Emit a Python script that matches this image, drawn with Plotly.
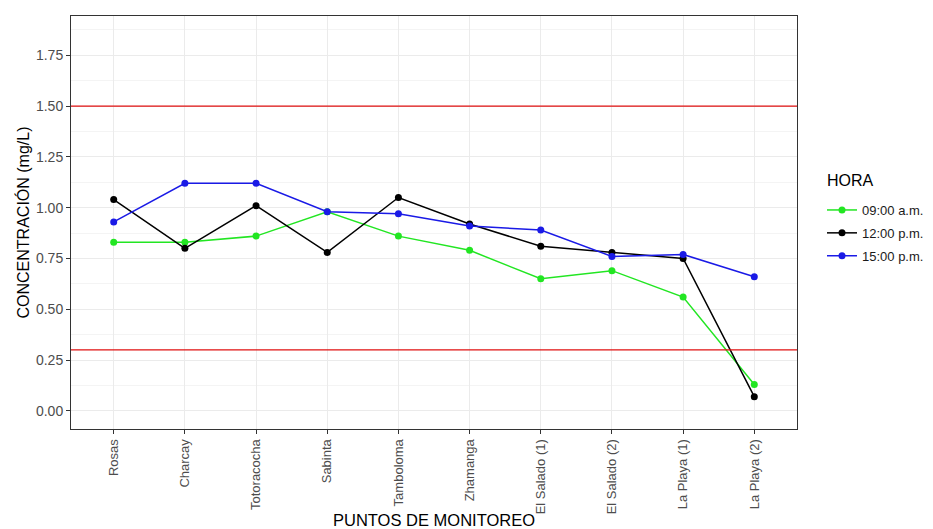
import plotly.graph_objects as go

puntos = ["Rosas", "Charcay", "Totoracocha", "Sabinta", "Tamboloma", "Zhamanga",
          "El Salado (1)", "El Salado (2)", "La Playa (1)", "La Playa (2)"]
hora_0900 = [0.83, 0.83, 0.86, 0.98, 0.86, 0.79, 0.65, 0.69, 0.56, 0.13]
hora_1200 = [1.04, 0.80, 1.01, 0.78, 1.05, 0.92, 0.81, 0.78, 0.75, 0.07]
hora_1500 = [0.93, 1.12, 1.12, 0.98, 0.97, 0.91, 0.89, 0.76, 0.77, 0.66]
series_names = ["09:00 a.m.", "12:00 p.m.", "15:00 p.m."]
series_colors = ["#22E622", "#000000", "#1A1AE6"]
limites = [1.5, 0.3]
y_ticks = [0.00, 0.25, 0.50, 0.75, 1.00, 1.25, 1.50, 1.75]

FONT = "Liberation Sans, Arial, sans-serif"
OFF = 8  # default page body margin
PAGE_W, PAGE_H = 933, 529
# panel edges in page pixels
PL, PR, PT, PB = 71, 797, 16, 429
W, H = PAGE_W - OFF, PAGE_H - OFF
L, T = PL - OFF, PT - OFF
R, B = PAGE_W - PR, PAGE_H - PB
PW, PH = PR - PL, PB - PT

def px_x(x):
    return (x - PL) / PW

def px_y(y):
    return (PB - y) / PH

fig = go.Figure()
for i, (name, vals, col) in enumerate(zip(series_names, [hora_0900, hora_1200, hora_1500], series_colors)):
    fig.add_trace(go.Scatter(
        x=puntos, y=vals, name=name, mode="lines+markers",
        line=dict(color=col, width=1.5),
        marker=dict(color=col, size=7),
        legendgroup=f"g{i}",
    ))

for v in limites:
    fig.add_hline(y=v, line=dict(color="#E01010", width=1.3), layer="above")

fig.update_layout(
    width=W, height=H,
    margin=dict(l=L, r=R, t=T, b=B, autoexpand=False),
    paper_bgcolor="white", plot_bgcolor="white",
    font=dict(family=FONT, color="#4D4D4D", size=13),
    showlegend=True,
    legend=dict(
        x=px_x(822), y=px_y(195), xanchor="left", yanchor="top",
        font=dict(size=13, color="#1A1A1A"),
        tracegroupgap=3,
        bgcolor="rgba(0,0,0,0)",
    ),
    xaxis=dict(
        type="category", range=[-0.6, 9.6], automargin=False,
        tickangle=-90, ticks="outside", ticklen=4, tickcolor="#333333",
        showgrid=True, gridcolor="#EBEBEB", gridwidth=1,
        showline=True, mirror=True, linecolor="#333333", linewidth=1,
        tickfont=dict(size=13, color="#4D4D4D"),
        zeroline=False,
    ),
    yaxis=dict(
        range=[-0.089, 1.943], automargin=False,
        tickvals=y_ticks, ticktext=[f"{t:.2f}" for t in y_ticks],
        ticks="outside", ticklen=4, tickcolor="#333333",
        showgrid=True, gridcolor="#EBEBEB", gridwidth=1,
        minor=dict(dtick=0.125, tick0=0, showgrid=True, gridcolor="#F4F4F4", gridwidth=0.6, ticks=""),
        showline=True, mirror=True, linecolor="#333333", linewidth=1,
        tickfont=dict(size=14, color="#4D4D4D"),
        zeroline=False,
    ),
    annotations=[
        dict(text="CONCENTRACIÓN (mg/L)", xref="paper", yref="paper",
             x=px_x(22), y=0.5, xanchor="center", yanchor="middle",
             textangle=-90, showarrow=False, font=dict(size=16, color="#000000")),
        dict(text="PUNTOS DE MONITOREO", xref="paper", yref="paper",
             x=0.5, y=px_y(509), xanchor="center", yanchor="top",
             showarrow=False, font=dict(size=16.5, color="#000000")),
        dict(text="HORA", xref="paper", yref="paper",
             x=px_x(825), y=px_y(181), xanchor="left", yanchor="middle",
             showarrow=False, font=dict(size=16, color="#000000")),
    ],
)

fig.write_html("out.html")
